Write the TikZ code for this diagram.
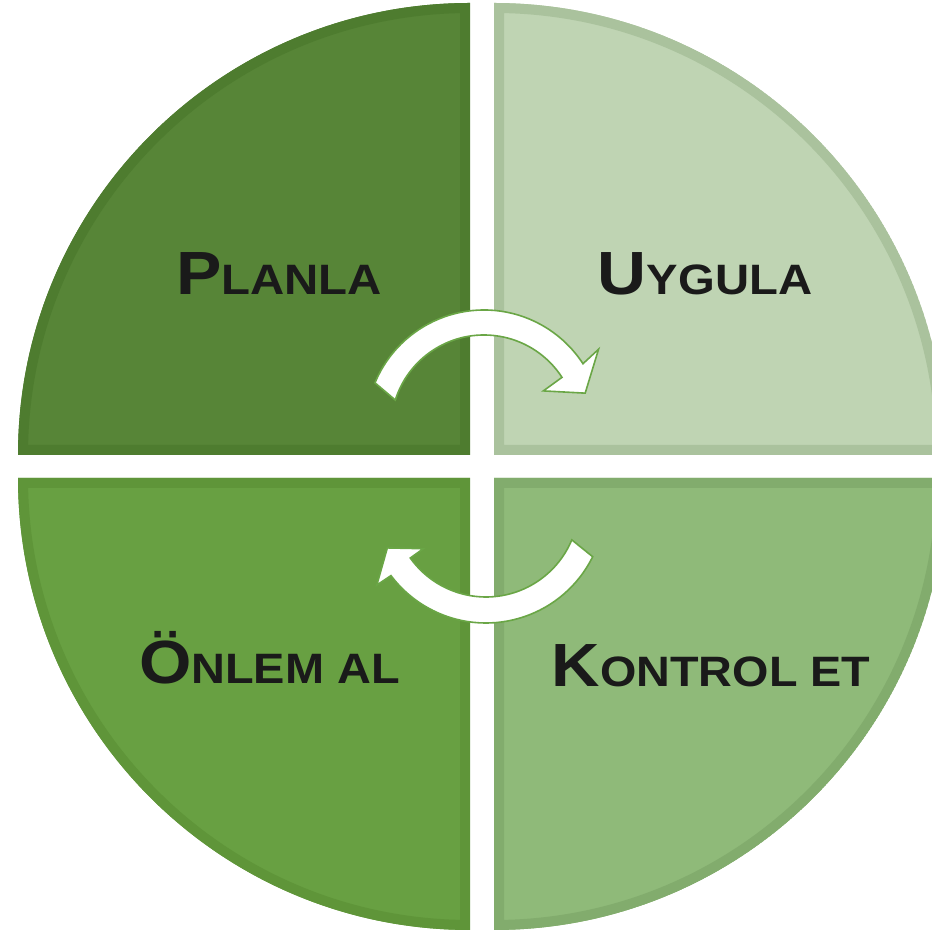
\documentclass[tikz,border=0pt]{standalone}
\usepackage{fontspec}
\setmainfont{Liberation Sans}
\usepackage{graphicx}
\definecolor{tlfill}{HTML}{578537}
\definecolor{tlline}{HTML}{4E7C2F}
\definecolor{trfill}{HTML}{BFD4B3}
\definecolor{trline}{HTML}{AAC29D}
\definecolor{blfill}{HTML}{68A042}
\definecolor{blline}{HTML}{5F9539}
\definecolor{brfill}{HTML}{8FBA79}
\definecolor{brline}{HTML}{82AC6D}
\definecolor{arrline}{HTML}{6AA646}
\definecolor{txt}{HTML}{1A1A1A}
\newcommand\quadpath[3]{(#1,#2) -- ++(#3:452pt) arc[start angle=#3,end angle=#3-90,radius=452pt] -- cycle}
\newcommand\quadrant[5]{%
  \begin{scope}
    \clip \quadpath{#1}{#2}{#3};
    \fill[#4] \quadpath{#1}{#2}{#3};
    \draw[#5,line width=20pt] \quadpath{#1}{#2}{#3};
  \end{scope}}
\newcommand\sctext[2]{{\fontsize{61}{61}\selectfont #1}{\fontsize{42.5}{42.5}\selectfont #2}}
\tikzset{
  lbl/.style={inner sep=0pt,outer sep=0pt,anchor=base,text=txt,font=\bfseries},
  cyclearrow/.style={fill=white,draw=arrline,line width=1.6pt,line join=miter}
}
\begin{document}
\begin{tikzpicture}[x=1pt,y=1pt]
\fill[white] (0,0) rectangle (931,933);
\useasboundingbox (0,0) rectangle (931,933);
% quadrants
\quadrant{470}{478}{180}{tlfill}{tlline}
\quadrant{494}{478}{90}{trfill}{trline}
\quadrant{470}{455}{270}{blfill}{blline}
\quadrant{494}{455}{0}{brfill}{brline}
% labels
\node[lbl] (planla) at (279,638) {\scalebox{1.115}[1]{\sctext{P}{LANLA}}};
\node[lbl] (uygula) at (705,638) {\scalebox{1.112}[1]{\sctext{U}{YGULA}}};
\node[lbl] (onlem) at (269.5,249) {\scalebox{1.104}[1]{\sctext{Ö}{NLEM AL}}};
\node[lbl] (kontrol) at (711,246) {\scalebox{1.10}[1]{\sctext{K}{ONTROL ET}}};
% top cycle arrow
\draw[cyclearrow,shift={(484,505)}]
  (157.5:118pt) arc[start angle=157.5,end angle=33,radius=118pt]
  -- (34.5:139pt) -- (19:107pt) -- (32:70pt) -- (33:93pt)
  arc[start angle=33,end angle=162.5,radius=93pt] -- cycle;
% bottom cycle arrow
\draw[cyclearrow,shift={(486,429)}]
  (-26.3:119pt) arc[start angle=-26.3,end angle=-143,radius=119pt]
  -- (-143.4:136pt) -- (-156:108pt) -- (-144.5:77pt) -- (-144.5:93pt)
  arc[start angle=-144.5,end angle=-22.7,radius=93pt] -- cycle;
\end{tikzpicture}
\end{document}
